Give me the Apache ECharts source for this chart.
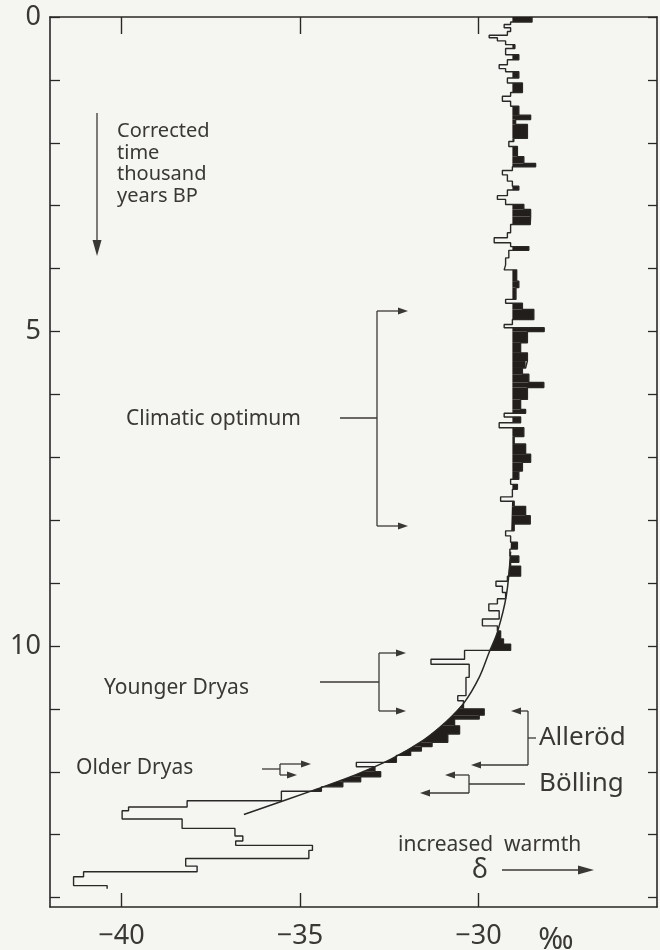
<!DOCTYPE html>
<html><head><meta charset="utf-8">
<script src="https://cdn.jsdelivr.net/npm/echarts@6/dist/echarts.min.js"></script>
<style>html,body{margin:0;padding:0;background:#f5f5f2}#c{width:660px;height:950px}</style>
</head><body><div id="c"></div>
<script>
// ---- data: stepped delta-18O profile (time in thousand years BP, delta in permil)
const stepStart = [
 0.00,0.08,0.12,0.17,0.23,0.29,0.33,0.38,0.44,0.50,0.60,0.68,0.76,0.82,0.87,0.97,1.05,1.20,1.26,1.34,
 1.42,1.56,1.63,1.71,1.93,1.98,2.06,2.22,2.33,2.38,2.44,2.51,2.61,2.69,2.75,2.84,2.90,2.98,3.06,3.17,
 3.30,3.43,3.51,3.59,3.65,3.71,3.83,3.94,4.02,4.20,4.30,4.49,4.55,4.65,4.81,4.89,4.94,5.00,5.18,5.34,
 5.47,5.58,5.68,5.81,5.89,6.08,6.24,6.30,6.36,6.45,6.53,6.67,6.79,6.95,7.08,7.22,7.35,7.43,7.51,7.63,
 7.70,7.78,7.93,8.06,8.17,8.25,8.35,8.46,8.57,8.67,8.73,8.89,8.97,9.05,9.15,9.25,9.33,9.44,9.57,9.68,
 9.76,9.89,9.97,10.07,10.21,10.29,10.50,10.79,10.87,11.00,11.10,11.16,11.27,11.40,11.53,11.60,11.67,11.74,11.85,11.92,
 12.00,12.08,12.16,12.24,12.31,12.46,12.56,12.62,12.75,12.90,13.02,13.10,13.17,13.25,13.38,13.50,13.59,13.67,13.81
];
const stepEnd = 13.86;
const stepDelta = [
 -28.50,-29.10,-29.28,-29.10,-29.19,-29.70,-29.47,-29.24,-28.98,-29.24,-28.87,-29.19,-29.42,-29.24,-28.87,-29.19,-28.77,-29.10,-29.33,-29.10,
 -28.87,-28.54,-28.96,-28.63,-29.01,-29.15,-28.91,-28.73,-28.40,-29.05,-29.33,-29.19,-29.05,-28.87,-29.19,-29.47,-29.24,-28.73,-28.54,-28.55,
 -29.10,-29.19,-29.56,-29.10,-28.59,-29.15,-29.24,-29.28,-28.93,-28.87,-28.95,-29.24,-28.77,-28.45,-29.05,-29.28,-28.16,-28.63,-28.82,-28.63,
 -28.68,-28.77,-28.59,-28.17,-28.63,-28.82,-28.68,-29.28,-28.82,-29.42,-28.73,-29.00,-28.68,-28.54,-28.77,-28.87,-29.10,-28.91,-29.05,-29.38,
 -29.00,-28.68,-28.55,-29.00,-29.24,-29.10,-28.91,-29.12,-28.87,-29.10,-28.82,-29.19,-29.51,-29.33,-29.24,-29.47,-29.71,-29.42,-29.89,-29.47,
 -29.38,-29.30,-29.10,-30.39,-31.33,-30.26,-30.35,-30.58,-30.42,-29.84,-29.98,-30.67,-30.53,-30.86,-31.30,-31.60,-31.90,-32.30,-33.42,-32.90,
 -32.74,-33.30,-33.80,-34.40,-35.52,-38.16,-39.80,-39.98,-38.30,-36.82,-36.60,-36.80,-34.65,-34.75,-38.20,-37.88,-41.06,-41.34,-40.40
];
// smoothed trend curve (baseline); drawn from drawFrom downwards
const smoothTime  = [0.0, 7.5, 8.5, 9.2, 9.78, 10.1, 10.5, 10.9, 11.2, 11.5, 11.8, 12.05, 12.3, 12.68];
const smoothDelta = [-29.05,-29.05,-29.10,-29.22,-29.47,-29.70,-29.98,-30.40,-30.90,-31.55,-32.45,-33.45,-34.65,-36.57];
const drawFrom = 8.5;
const xTickValues = [-40, -35, -30];
const yTickValues = [0,1,2,3,4,5,6,7,8,9,10,11,12,13,14];
const yLabelValues = [0, 5, 10];

// ---- build
const stepPts = [];
const fillItems = [];
for (let i = 0; i < stepDelta.length; i++) {
  const t0 = stepStart[i], t1 = i + 1 < stepStart.length ? stepStart[i + 1] : stepEnd;
  stepPts.push([stepDelta[i], t0], [stepDelta[i], t1]);
  fillItems.push([t0, t1, stepDelta[i]]);
}
const smoothPts = smoothTime.map((t, i) => [smoothDelta[i], t]).filter(p => p[1] >= drawFrom);
function base(t) {
  if (t <= smoothTime[0]) return smoothDelta[0];
  for (let i = 1; i < smoothTime.length; i++) {
    if (t <= smoothTime[i]) {
      const f = (t - smoothTime[i - 1]) / (smoothTime[i] - smoothTime[i - 1]);
      return smoothDelta[i - 1] + f * (smoothDelta[i] - smoothDelta[i - 1]);
    }
  }
  return Infinity; // no trend curve beyond its end -> no fill
}

const INK = '#2a2826';
const TXT = '#3a3835';
const FONT = '"Noto Sans", "DejaVu Sans", sans-serif';
const chart = echarts.init(document.getElementById('c'));

function ln(x1, y1, x2, y2) { return { type: 'line', shape: { x1, y1, x2, y2 }, style: { stroke: TXT, lineWidth: 1.3 }, silent: true }; }
function headR(x, y) { return { type: 'polygon', shape: { points: [[x, y], [x - 10, y - 3.5], [x - 10, y + 3.5]] }, style: { fill: TXT }, silent: true }; }
function headL(x, y) { return { type: 'polygon', shape: { points: [[x, y], [x + 10, y - 3.5], [x + 10, y + 3.5]] }, style: { fill: TXT }, silent: true }; }
function txt(s, x, y, size, align) { return { type: 'text', style: { text: s, x, y, font: size + 'px ' + FONT, fill: TXT, align: align || 'left', verticalAlign: 'middle' }, silent: true }; }

const graphics = [
  // time arrow & legend
  ln(97, 113, 97, 244), { type: 'polygon', shape: { points: [[97, 256], [92.5, 240], [101.5, 240]] }, style: { fill: TXT } },
  { type: 'text', style: { text: 'Corrected\ntime\nthousand\nyears BP', x: 117, y: 121, font: '20px ' + FONT, fill: TXT, lineHeight: 21.5, verticalAlign: 'top' } },
  // climatic optimum
  txt('Climatic optimum', 126, 419, 21),
  ln(340, 418, 377, 418), ln(377, 311, 377, 526), ln(377, 311, 400, 311), headR(408, 311), ln(377, 526, 400, 526), headR(408, 526),
  // younger dryas
  txt('Younger Dryas', 104, 688, 21),
  ln(320, 682, 379, 682), ln(379, 653, 379, 711), ln(379, 653, 398, 653), headR(406, 653), ln(379, 711, 398, 711), headR(406, 711),
  // older dryas
  txt('Older Dryas', 76, 768, 21),
  ln(262, 769, 280, 769), ln(280, 764, 280, 775), ln(280, 764, 302, 764), headR(311, 764), ln(280, 775, 288, 775), headR(297, 775),
  // Allerod
  ln(528, 711, 520, 711), headL(511, 711), ln(528, 711, 528, 765), ln(528, 765, 481, 765), headL(471, 765), ln(528, 738, 536, 738),
  txt('Alleröd', 539, 738, 26),
  // Bolling
  ln(469, 775, 454, 775), headL(445, 775), ln(469, 775, 469, 793), ln(469, 793, 430, 793), headL(420, 793), ln(469, 784, 525, 784),
  txt('Bölling', 539, 784, 26),
  // warmth
  txt('increased  warmth', 398, 845, 21),
  txt('δ', 480, 870, 27, 'center'),
  ln(502, 870, 584, 870), { type: 'polygon', shape: { points: [[594, 870], [578, 865.5], [578, 874.5]] }, style: { fill: TXT } },
  txt('‰', 556, 940, 30, 'center')
];

chart.setOption({
  backgroundColor: '#f5f5f2',
  animation: false,
  grid: { left: 50, right: 3, top: 17, bottom: 42 },
  xAxis: [
    { type: 'value', position: 'bottom', min: -42, max: -25,
      axisLine: { show: true, onZero: false, lineStyle: { color: INK, width: 1.6 } },
      axisTick: { show: true, inside: true, length: 14, customValues: xTickValues, lineStyle: { color: INK, width: 1.4 } },
      axisLabel: { customValues: xTickValues, formatter: v => '−' + Math.abs(v), fontSize: 27, color: TXT, margin: 16, fontFamily: FONT },
      splitLine: { show: false } },
    { type: 'value', position: 'top', min: -42, max: -25,
      axisLine: { show: true, onZero: false, lineStyle: { color: INK, width: 1.6 } },
      axisTick: { show: true, inside: true, length: 17, customValues: xTickValues, lineStyle: { color: INK, width: 1.4 } },
      axisLabel: { show: false }, splitLine: { show: false } }
  ],
  yAxis: [
    { type: 'value', position: 'left', inverse: true, min: 0, max: 14.15,
      axisLine: { show: true, onZero: false, lineStyle: { color: INK, width: 1.6 } },
      axisTick: { show: true, inside: true, length: 10, customValues: yTickValues, lineStyle: { color: INK, width: 1.3 } },
      axisLabel: { customValues: yLabelValues, fontSize: 27, color: TXT, margin: 9, fontFamily: FONT },
      splitLine: { show: false } },
    { type: 'value', position: 'right', inverse: true, min: 0, max: 14.15,
      axisLine: { show: true, onZero: false, lineStyle: { color: INK, width: 1.6 } },
      axisTick: { show: true, inside: true, length: 9, customValues: yTickValues, lineStyle: { color: INK, width: 1.3 } },
      axisLabel: { show: false }, splitLine: { show: false } }
  ],
  series: [
    { type: 'custom', xAxisIndex: 0, yAxisIndex: 0, data: fillItems, encode: { x: 2, y: [0, 1] },
      renderItem: function (params, api) {
        const t0 = api.value(0), t1 = api.value(1), v = api.value(2);
        const N = 8;
        const pts = [api.coord([v, t0]), api.coord([v, t1])];
        for (let k = N; k >= 0; k--) {
          const t = t0 + (t1 - t0) * k / N;
          pts.push(api.coord([Math.min(base(t), v), t]));
        }
        return { type: 'polygon', shape: { points: pts }, style: { fill: '#221e1b' } };
      }, silent: true, z: 2 },
    { type: 'line', xAxisIndex: 0, yAxisIndex: 0, data: smoothPts, smooth: 0.35, symbol: 'none',
      lineStyle: { color: INK, width: 1.5 }, silent: true, z: 3 },
    { type: 'line', xAxisIndex: 0, yAxisIndex: 0, data: stepPts, symbol: 'none',
      lineStyle: { color: INK, width: 1.4 }, silent: true, z: 4 }
  ],
  graphic: graphics
});
</script></body></html>
